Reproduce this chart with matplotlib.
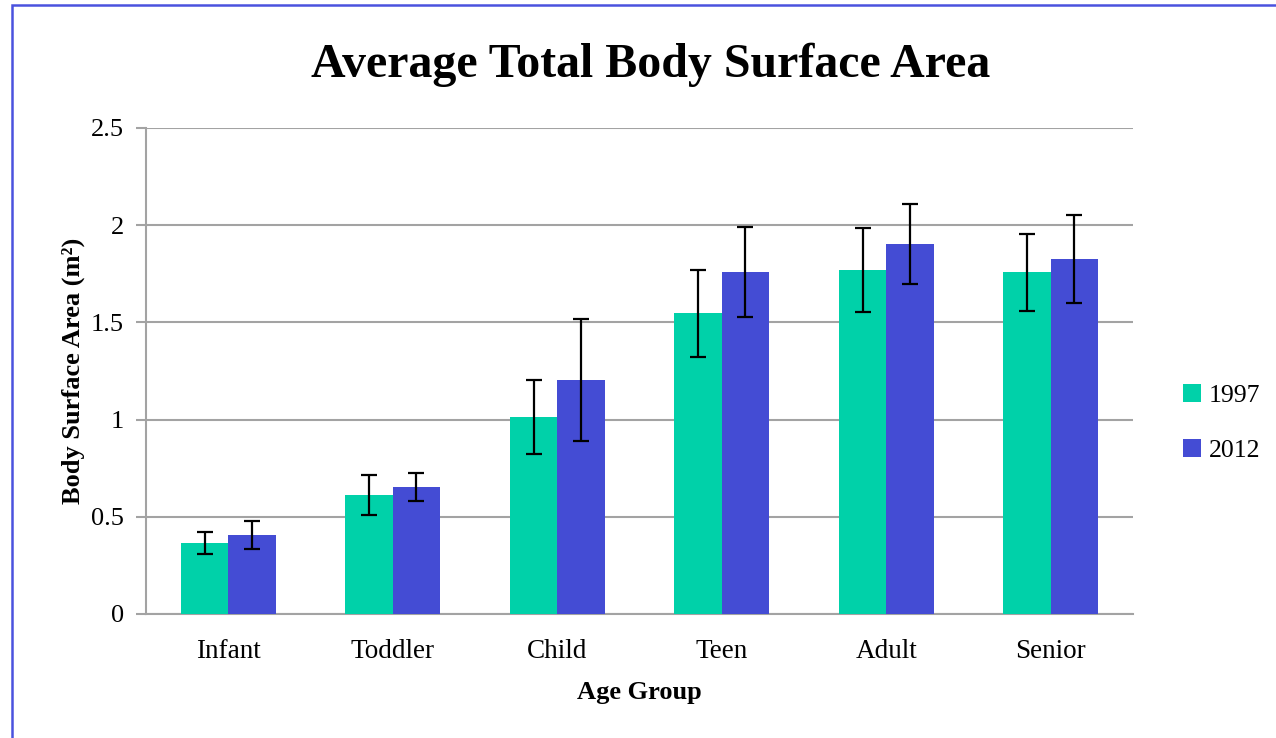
import matplotlib
matplotlib.use("Agg")
import matplotlib.pyplot as plt
import numpy as np
from matplotlib.patches import Rectangle

categories = ["Infant", "Toddler", "Child", "Teen", "Adult", "Senior"]
series_names = ["1997", "2012"]
values_1997 = [0.365, 0.612, 1.013, 1.548, 1.77, 1.759]
errors_1997 = [0.055, 0.103, 0.19, 0.224, 0.216, 0.198]
values_2012 = [0.406, 0.653, 1.204, 1.759, 1.903, 1.826]
errors_2012 = [0.07, 0.07, 0.316, 0.23, 0.208, 0.224]
yticks = [0, 0.5, 1, 1.5, 2, 2.5]
ytick_labels = ["0", "0.5", "1", "1.5", "2", "2.5"]

plt.rcParams['font.family'] = ['Liberation Serif', 'DejaVu Serif']

W, H = 1276, 738
fig = plt.figure(figsize=(W / 100, H / 100), dpi=100)
fig.patch.set_facecolor("white")

# partial blue border
fig.add_artist(Rectangle((11.5 / W, -0.1), 1.2, 1 - 5.5 / H + 0.1, transform=fig.transFigure,
                         fill=False, edgecolor="#4a52de", linewidth=1.8, clip_on=False))

ax = fig.add_axes([146 / W, 1 - 614 / H, (1133 - 146) / W, (614 - 128) / H])

x = np.arange(len(categories))
bw = 0.288
grey = "#a3a3a3"
ekw = dict(ecolor="black", elinewidth=1.6, capsize=6, capthick=1.6)
ax.bar(x - bw / 2, values_1997, bw, color="#00d1a9", yerr=errors_1997, error_kw=ekw,
       label=series_names[0], zorder=3)
ax.bar(x + bw / 2, values_2012, bw, color="#444cd4", yerr=errors_2012, error_kw=ekw,
       label=series_names[1], zorder=3)

ax.set_xlim(-0.5, len(categories) - 0.5)
ax.set_ylim(0, 2.5)
ax.set_yticks(yticks)
ax.set_yticklabels(ytick_labels, fontsize=19)
ax.set_xticks(x)
ax.set_xticklabels(categories, fontsize=19.5)
ax.tick_params(axis="x", length=0, pad=18)
ax.tick_params(axis="y", length=7, width=1.5, color=grey, pad=9)
ax.yaxis.grid(True, color=grey, linewidth=1.5, zorder=0)
ax.set_axisbelow(True)
for s in ["top", "right"]:
    ax.spines[s].set_visible(False)
for s in ["left", "bottom"]:
    ax.spines[s].set_color(grey)
    ax.spines[s].set_linewidth(1.5)

ax.set_xlabel("Age Group", fontsize=19, fontweight="bold", labelpad=12)
ax.set_ylabel("Body Surface Area (m²)", fontsize=19, fontweight="bold", labelpad=4)

fig.text(651 / W, 1 - 65 / H, "Average Total Body Surface Area", ha="center", va="center",
         fontsize=34.5, fontweight="bold")

leg = ax.legend(loc="center left", bbox_to_anchor=(1160 / W, 1 - 423 / H),
                bbox_transform=fig.transFigure, frameon=False, fontsize=18.5,
                handlelength=0.7, handleheight=0.7, handletextpad=0.3, labelspacing=1.25)

fig.savefig("out.png", dpi=100)
